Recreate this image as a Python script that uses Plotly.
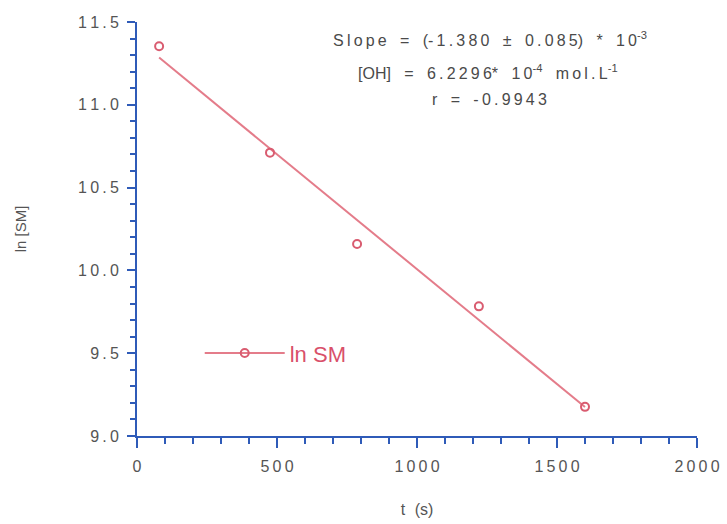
import plotly.graph_objects as go

# Data
t_s = [79, 475, 786, 1221, 1600]
ln_sm = [11.354, 10.711, 10.159, 9.783, 9.176]
fit_t = [79, 1600]
fit_ln = [11.285, 9.175]

x_tickvals = [0, 500, 1000, 1500, 2000]
x_ticktext = ["0", "500", "1000", "1500", "2000"]
y_tickvals = [9.0, 9.5, 10.0, 10.5, 11.0, 11.5]
y_ticktext = ["9.0", "9.5", "10.0", "10.5", "11.0", "11.5"]

SP = "\u2009"
NB = "\u00a0\u00a0\u00a0"
def spaced(s, sep=SP):
    return sep.join(list(s))

AXIS_BLUE = "#2f5bb8"
LINE_RED = "#e47c8a"
MARK_RED = "#d95c70"
TXT = "#4a4a4a"
FONT = "Liberation Sans, Arial, sans-serif"

fig = go.Figure()
fig.add_trace(go.Scatter(
    x=fit_t, y=fit_ln, mode="lines",
    line=dict(color=LINE_RED, width=2),
    showlegend=False, hoverinfo="skip"))
fig.add_trace(go.Scatter(
    x=t_s, y=ln_sm, mode="markers",
    marker=dict(symbol="circle-open", size=8, color=MARK_RED, line=dict(width=2, color=MARK_RED)),
    showlegend=False))
# legend entry
fig.add_trace(go.Scatter(
    x=[None], y=[None], mode="lines+markers", name="ln SM",
    line=dict(color=LINE_RED, width=2),
    marker=dict(symbol="circle-open", size=8, color=MARK_RED, line=dict(width=2, color=MARK_RED)),
    showlegend=True))

fig.update_layout(
    width=727, height=524,
    margin=dict(l=137, r=30, t=22, b=88),
    paper_bgcolor="white", plot_bgcolor="white",
    font=dict(family=FONT, color=TXT),
    legend=dict(x=0.112, y=0.2, xanchor="left", yanchor="middle",
                bgcolor="rgba(0,0,0,0)",
                font=dict(size=22, color="#d9506a", family=FONT),
                itemwidth=80),
    xaxis=dict(
        range=[0, 2000], showgrid=False, zeroline=False, automargin=False,
        showline=True, linecolor=AXIS_BLUE, linewidth=2,
        ticks="outside", ticklen=10, tickwidth=2, tickcolor=AXIS_BLUE,
        tickvals=x_tickvals, ticktext=[spaced(s) for s in x_ticktext],
        tickfont=dict(size=16, color="#555555"),
        ticklabelstandoff=5,
        minor=dict(dtick=100, ticks="outside", ticklen=6, tickwidth=2, tickcolor=AXIS_BLUE),
        title=dict(text="t" + SP * 3 + "(s)", font=dict(size=16, color="#555555"), standoff=30),
    ),
    yaxis=dict(
        range=[9.0, 11.5], showgrid=False, zeroline=False, automargin=False,
        showline=True, linecolor=AXIS_BLUE, linewidth=2,
        ticks="outside", ticklen=8, tickwidth=2, tickcolor=AXIS_BLUE,
        tickvals=y_tickvals, ticktext=[spaced(s) for s in y_ticktext],
        tickfont=dict(size=16, color="#555555"),
        ticklabelstandoff=5,
        minor=dict(dtick=0.1, ticks="outside", ticklen=5, tickwidth=2, tickcolor=AXIS_BLUE),
        title=dict(text="ln [SM]", font=dict(size=15, color="#555555"), standoff=48),
    ),
)

ann_font = dict(size=16, color=TXT, family=FONT)
fig.add_annotation(xref="paper", yref="paper", x=0.63, y=0.959, xanchor="center", yanchor="middle",
                   text=spaced("Slope") + NB + "=" + NB + "(" + spaced("-1.380") + NB + "±" + NB + spaced("0.085") + ")" + NB + "*" + NB + spaced("10") + "<sup>-3</sup>",
                   showarrow=False, font=ann_font)
fig.add_annotation(xref="paper", yref="paper", x=0.627, y=0.879, xanchor="center", yanchor="middle",
                   text="[OH]" + NB + "=" + NB + spaced("6.2296") + "*" + NB + spaced("10") + "<sup>-4</sup>" + NB + spaced("mol.L") + "<sup>-1</sup>",
                   showarrow=False, font=ann_font)
fig.add_annotation(xref="paper", yref="paper", x=0.63, y=0.813, xanchor="center", yanchor="middle",
                   text="r" + NB + "=" + NB + spaced("-0.9943"), showarrow=False, font=ann_font)

fig.write_html("out.html")
